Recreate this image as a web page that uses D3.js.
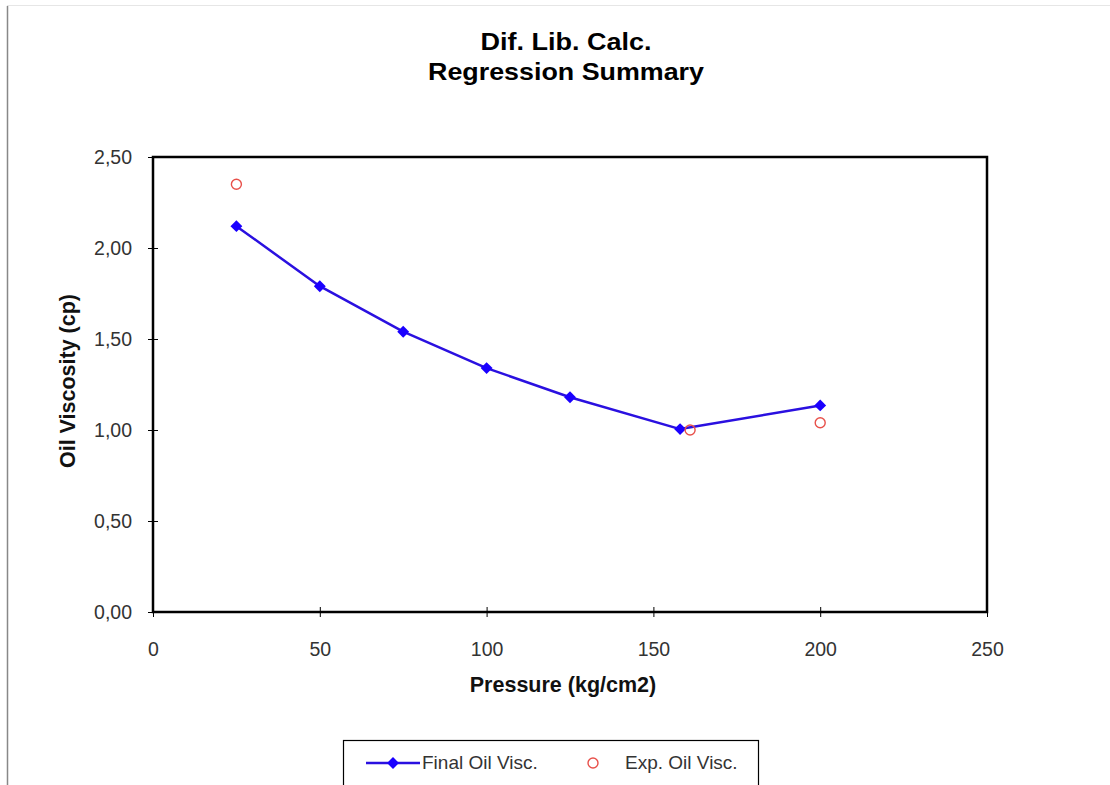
<!DOCTYPE html>
<html>
<head>
<meta charset="utf-8">
<script src="https://cdn.jsdelivr.net/npm/d3@7"></script>
<style>
  body { margin: 0; background: #fff; }
  svg { font-family: Arial, "Liberation Sans", sans-serif; }
</style>
</head>
<body>
<div class="graph"></div>
<script>
// data
const finalPressure = [25, 50, 75, 100, 125, 158, 200];
const finalVisc = [2.12, 1.79, 1.54, 1.34, 1.18, 1.005, 1.135];
const expPressure = [25, 161, 200];
const expVisc = [2.35, 1.0, 1.04];
const xTicks = [0, 50, 100, 150, 200, 250];
const yTicks = [0, 0.5, 1.0, 1.5, 2.0, 2.5];

const SIZE = {X: 1110, Y: 785};
const PLOT = {LEFT: 153, TOP: 157, RIGHT: 987, BOTTOM: 612};

const svg = d3.select(".graph").append("svg")
    .attr("width", SIZE.X)
    .attr("height", SIZE.Y);

// outer frame of the chart area (cut off at bottom/right)
svg.append("line")
    .attr("x1", 7.5).attr("x2", 7.5).attr("y1", 6).attr("y2", SIZE.Y)
    .attr("stroke", "#888").attr("stroke-width", 1.5);
svg.append("line")
    .attr("x1", 7).attr("x2", SIZE.X).attr("y1", 5.5).attr("y2", 5.5)
    .attr("stroke", "#e6e6e6").attr("stroke-width", 1);

//scales
const x = d3.scaleLinear().domain([0, 250]).range([PLOT.LEFT, PLOT.RIGHT]);
const y = d3.scaleLinear().domain([0, 2.5]).range([PLOT.BOTTOM, PLOT.TOP]);

const fmt = d => d3.format(".2f")(d).replace(".", ",");

// plot box
svg.append("rect")
    .attr("x", PLOT.LEFT).attr("y", PLOT.TOP)
    .attr("width", PLOT.RIGHT - PLOT.LEFT).attr("height", PLOT.BOTTOM - PLOT.TOP)
    .attr("fill", "none").attr("stroke", "#000").attr("stroke-width", 2.5);

// axes with cross ticks
const xAxis = svg.append("g")
    .attr("transform", `translate(0, ${PLOT.BOTTOM})`)
    .call(d3.axisBottom(x).tickValues(xTicks).tickSize(5).tickPadding(25).tickFormat(d3.format("d")));
xAxis.select(".domain").remove();
xAxis.selectAll(".tick line").attr("y1", -5).attr("stroke", "#000").attr("stroke-width", 1);

const yAxis = svg.append("g")
    .attr("transform", `translate(${PLOT.LEFT}, 0)`)
    .call(d3.axisLeft(y).tickValues(yTicks).tickSize(5).tickPadding(16).tickFormat(fmt));
yAxis.select(".domain").remove();
yAxis.selectAll(".tick line").attr("x1", 5).attr("x2", -5).attr("stroke", "#000").attr("stroke-width", 1);

svg.selectAll(".tick text")
    .attr("font-size", 19.5)
    .attr("fill", "#333");

// titles
svg.append("text")
    .attr("x", 566).attr("y", 50)
    .attr("text-anchor", "middle")
    .attr("font-size", 24).attr("font-weight", "bold")
    .attr("textLength", 171).attr("lengthAdjust", "spacingAndGlyphs")
    .text("Dif. Lib. Calc.");
svg.append("text")
    .attr("x", 566).attr("y", 80)
    .attr("text-anchor", "middle")
    .attr("font-size", 24).attr("font-weight", "bold")
    .attr("textLength", 276).attr("lengthAdjust", "spacingAndGlyphs")
    .text("Regression Summary");

svg.append("text")
    .attr("x", 563).attr("y", 692)
    .attr("text-anchor", "middle")
    .attr("font-size", 21.5).attr("font-weight", "bold")
    .attr("fill", "#111")
    .text("Pressure (kg/cm2)");

svg.append("text")
    .attr("transform", `translate(75, 381) rotate(-90)`)
    .attr("text-anchor", "middle")
    .attr("font-size", 21.5).attr("font-weight", "bold")
    .attr("fill", "#111")
    .text("Oil Viscosity (cp)");

// series
const finalData = finalPressure.map((p, i) => ({p: p, v: finalVisc[i]}));
const expData = expPressure.map((p, i) => ({p: p, v: expVisc[i]}));

const line = d3.line()
    .x(d => x(d.p))
    .y(d => y(d.v));

svg.append("path")
    .datum(finalData)
    .attr("fill", "none")
    .attr("stroke", "#2a10e0")
    .attr("stroke-width", 2.5)
    .attr("stroke-linejoin", "round")
    .attr("d", line);

const diamond = d3.symbol().type(d3.symbolDiamond2).size(90);

svg.selectAll("path.final-pt")
    .data(finalData)
    .enter()
    .append("path")
        .attr("class", "final-pt")
        .attr("transform", d => `translate(${x(d.p)}, ${y(d.v)})`)
        .attr("d", diamond)
        .attr("fill", "#1a00ff");

svg.selectAll("circle.exp-pt")
    .data(expData)
    .enter()
    .append("circle")
        .attr("class", "exp-pt")
        .attr("cx", d => x(d.p))
        .attr("cy", d => y(d.v))
        .attr("r", 5)
        .attr("fill", "none")
        .attr("stroke", "#e8504a")
        .attr("stroke-width", 1.4);

// legend
const legend = svg.append("g");
legend.append("rect")
    .attr("x", 343.5).attr("y", 740.5)
    .attr("width", 415).attr("height", 50)
    .attr("fill", "#fff").attr("stroke", "#000").attr("stroke-width", 1.2);
legend.append("line")
    .attr("x1", 366).attr("x2", 420).attr("y1", 763).attr("y2", 763)
    .attr("stroke", "#2a10e0").attr("stroke-width", 2.5);
legend.append("path")
    .attr("transform", "translate(393, 763)")
    .attr("d", diamond)
    .attr("fill", "#1a00ff");
legend.append("text")
    .attr("x", 422).attr("y", 769)
    .attr("font-size", 19).attr("fill", "#333")
    .text("Final Oil Visc.");
legend.append("circle")
    .attr("cx", 593).attr("cy", 763).attr("r", 5)
    .attr("fill", "none").attr("stroke", "#e8504a").attr("stroke-width", 1.4);
legend.append("text")
    .attr("x", 625).attr("y", 769)
    .attr("font-size", 19).attr("fill", "#333")
    .text("Exp. Oil Visc.");
</script>
</body>
</html>
